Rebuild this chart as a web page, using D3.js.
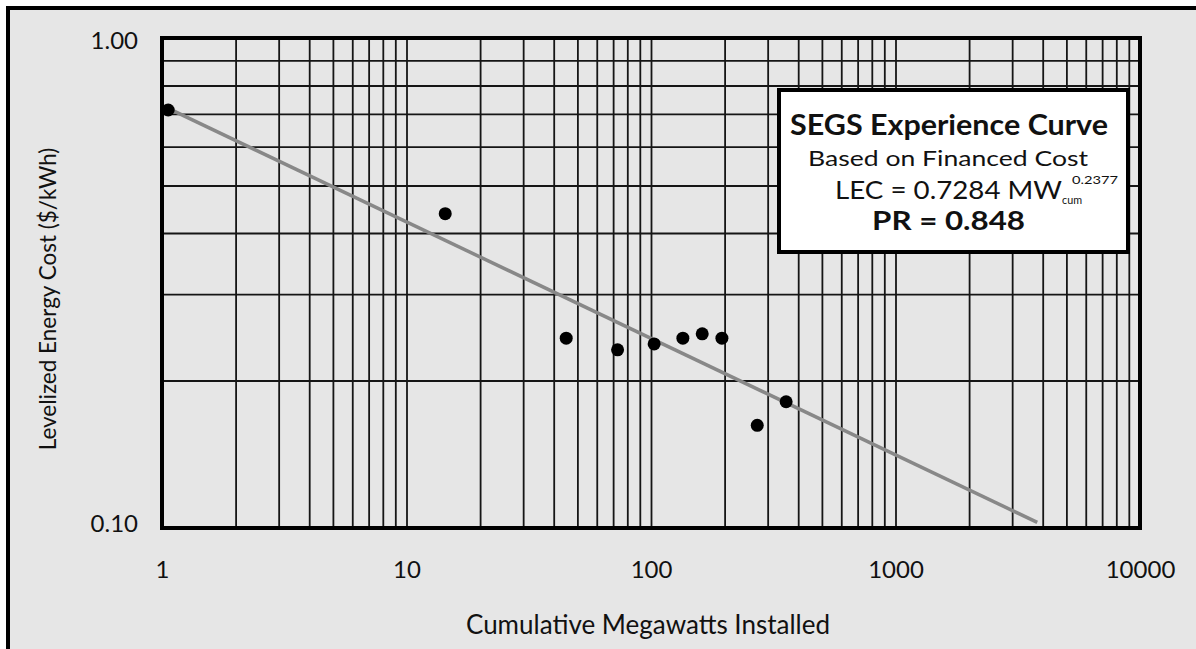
<!DOCTYPE html>
<html>
  <head>
    <meta charset="UTF-8">
    <title>SEGS Experience Curve</title>
    <script src="https://d3js.org/d3.v7.min.js"></script>
    <style>
      body { margin: 0; background: #fff; }
      text { font-family: Lato, "DejaVu Sans", sans-serif; fill: #111; }
    </style>
  </head>

  <body>
    <div class="chart"></div>

    <script type="application/javascript">
      // cumulative MW vs levelized energy cost
      const mwInstalled = [1.06, 14.4, 45, 73, 103, 135, 162, 195, 272, 357];
      const costPerKwh = [0.713, 0.438, 0.244, 0.231, 0.2375, 0.244, 0.249, 0.244, 0.162, 0.181];
      // fitted curve LEC = a * MW^b
      const fitA = 0.7284, fitB = -0.2377;
      const fitRange = [1, 3800];
      const xTickVals = [1, 10, 100, 1000, 10000];
      const xTickLabels = ["1", "10", "100", "1000", "10000"];
      const yTickVals = [0.1, 1];
      const yTickLabels = ["0.10", "1.00"];

      const W = 1196, H = 649;
      const plotL = 162, plotR = 1140, plotT = 38, plotB = 528;

      const svg = d3.select(".chart").append("svg")
        .attr("width", W).attr("height", H)

      // page background with the top/left frame
      svg.append("rect").attr("x", 8).attr("y", 8)
        .attr("width", W + 10).attr("height", H + 10)
        .attr("fill", "#e6e6e6").attr("stroke", "#000").attr("stroke-width", 4)

      const x = d3.scaleLog().domain([1, 10000]).range([plotL, plotR]);
      const y = d3.scaleLog().domain([0.1, 1]).range([plotB, plotT]);

      // grid
      svg.append("g")
        .attr("transform", `translate(0, ${plotB})`)
        .call(d3.axisBottom(x).tickValues(x.ticks()).tickSize(-(plotB - plotT)).tickFormat(""))
      svg.append("g")
        .attr("transform", `translate(${plotL}, 0)`)
        .call(d3.axisLeft(y).tickValues(y.ticks()).tickSize(-(plotR - plotL)).tickFormat(""))
      svg.selectAll(".domain").remove()
      svg.selectAll(".tick line").attr("stroke", "#151515").attr("stroke-width", 1.8)

      // fit line
      const fitLine = d3.line().x(d => x(d)).y(d => y(fitA * Math.pow(d, fitB)))
      svg.append("path").datum(fitRange)
        .attr("d", fitLine)
        .attr("fill", "none").attr("stroke", "#888").attr("stroke-width", 3.5)

      // frame
      svg.append("rect").attr("x", plotL).attr("y", plotT)
        .attr("width", plotR - plotL).attr("height", plotB - plotT)
        .attr("fill", "none").attr("stroke", "#000").attr("stroke-width", 4)

      // points
      svg.append("g").selectAll("circle")
        .data(mwInstalled)
        .join("circle")
        .attr("cx", d => x(d))
        .attr("cy", (d, i) => y(costPerKwh[i]))
        .attr("r", 6.5)
        .attr("fill", "#000")

      // tick labels
      const xAxis = svg.append("g")
        .attr("transform", `translate(0, ${plotB})`)
        .call(d3.axisBottom(x).tickValues(xTickVals)
          .tickFormat((d, i) => xTickLabels[i]).tickSize(0).tickPadding(33))
      const yAxis = svg.append("g")
        .attr("transform", `translate(${plotL}, 0)`)
        .call(d3.axisLeft(y).tickValues(yTickVals)
          .tickFormat((d, i) => yTickLabels[i]).tickSize(0).tickPadding(24))
      xAxis.select(".domain").remove()
      yAxis.select(".domain").remove()
      svg.selectAll("g text").attr("font-size", 24).attr("font-family", "Lato, sans-serif").attr("fill", "#111")
      yAxis.selectAll("text").attr("dy", d => d == 1 ? "0.45em" : "0.15em")

      // axis titles
      svg.append("text")
        .attr("x", 648).attr("y", 634)
        .attr("text-anchor", "middle").attr("font-size", 26)
        .text("Cumulative Megawatts Installed")
      svg.append("text")
        .attr("transform", "translate(56, 299) rotate(-90)")
        .attr("text-anchor", "middle").attr("font-size", 22.5)
        .text("Levelized Energy Cost ($/kWh)")

      // legend box
      svg.append("rect").attr("x", 779).attr("y", 90)
        .attr("width", 349).attr("height", 162)
        .attr("fill", "#fff").attr("stroke", "#000").attr("stroke-width", 4)
      svg.append("text").attr("x", 790).attr("y", 135)
        .attr("font-size", 28).attr("font-weight", "bold")
        .attr("textLength", 318).attr("lengthAdjust", "spacingAndGlyphs")
        .text("SEGS Experience Curve")
      svg.append("text").attr("x", 808).attr("y", 166)
        .attr("font-size", 22).attr("fill", "#333")
        .attr("textLength", 280).attr("lengthAdjust", "spacingAndGlyphs")
        .text("Based on Financed Cost")
      svg.append("text").attr("x", 835).attr("y", 199)
        .attr("font-size", 25)
        .attr("textLength", 227).attr("lengthAdjust", "spacingAndGlyphs")
        .text("LEC = 0.7284 MW")
      svg.append("text").attr("x", 1062).attr("y", 204)
        .attr("font-size", 11).attr("textLength", 20).attr("lengthAdjust", "spacingAndGlyphs")
        .text("cum")
      svg.append("text").attr("x", 1072).attr("y", 184)
        .attr("font-size", 11).attr("textLength", 46).attr("lengthAdjust", "spacingAndGlyphs")
        .text("0.2377")
      svg.append("text").attr("x", 872).attr("y", 230)
        .attr("font-size", 27).attr("font-weight", "bold")
        .attr("textLength", 153).attr("lengthAdjust", "spacingAndGlyphs")
        .text("PR = 0.848")
    </script>
  </body>

</html>
